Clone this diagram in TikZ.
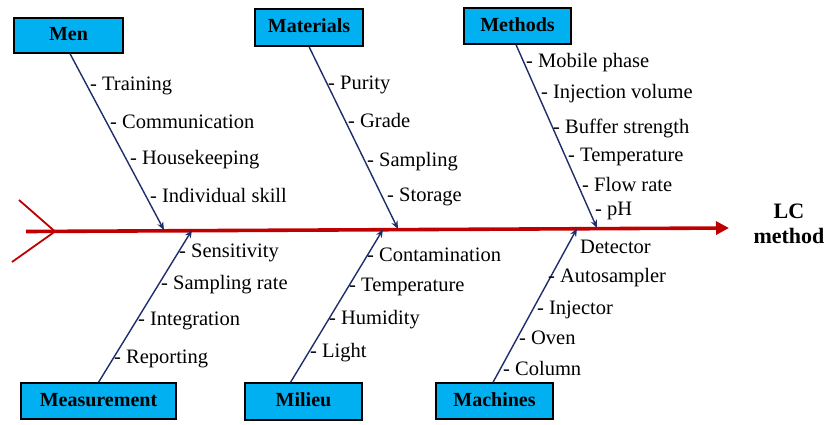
\documentclass[tikz,border=0pt]{standalone}
\usepackage{fontspec}
\setmainfont{Liberation Serif}
\usetikzlibrary{arrows.meta}
\definecolor{boxcyan}{HTML}{00B0F0}
\definecolor{spinered}{HTML}{C00000}
\definecolor{navyline}{HTML}{1F2D6B}
\begin{document}
\begin{tikzpicture}[x=1pt,y=-1pt,
  catbox/.style={draw=black, line width=1.3pt, fill=boxcyan, inner sep=0pt,
    font=\bfseries\fontsize{20}{23}\selectfont, text height=13pt, text depth=3pt},
  cause/.style={anchor=west, inner sep=0pt, font=\fontsize{20.5}{23}\selectfont,
    text height=13pt, text depth=0pt},
  bone/.style={draw=navyline, line width=1.4pt, -{Stealth[length=8pt,width=6.5pt]}},
  spine/.style={draw=spinered, line width=3.6pt, -{Triangle[length=13pt,width=13pt]}},
  tail/.style={draw=spinered, line width=1.8pt}]
\useasboundingbox (0,0) rectangle (831,424);

% category boxes
\node[catbox, minimum width=109pt, minimum height=35pt] (men) at (68.5,35.5) {Men};
\node[catbox, minimum width=108pt, minimum height=37pt] (mat) at (309,27.5) {Materials};
\node[catbox, minimum width=107pt, minimum height=36pt] (meth) at (517.5,26) {Methods};
\node[catbox, minimum width=155pt, minimum height=36pt] (meas) at (98.5,401) {Measurement};
\node[catbox, minimum width=117pt, minimum height=37pt] (mil) at (303.5,401.5) {Milieu};
\node[catbox, minimum width=117pt, minimum height=36pt] (mach) at (494.5,401) {Machines};

% spine
\coordinate (tailA) at (19,200);
\coordinate (tailV) at (55,231.5);
\coordinate (tailB) at (12,262);
\coordinate (spineStart) at (26,231.5);
\coordinate (spineEnd) at (729,228);
\draw[tail] (tailA) -- (tailV) -- (tailB);
\draw[spine] (spineStart) -- (spineEnd);
\node[font=\bfseries\fontsize{22}{25}\selectfont, align=center, inner sep=0pt] (lc) at (789,224) {LC\\method};

% bone end points on the spine
\coordinate (menE) at (164,230);
\coordinate (matE) at (398,229);
\coordinate (methE) at (597,228);
\coordinate (measE) at (192,230);
\coordinate (milE) at (383,229.5);
\coordinate (machE) at (577,228.5);

\draw[bone] ([xshift=1.5pt]men.south) -- (menE);
\draw[bone] (mat.south) -- (matE);
\draw[bone] ([xshift=-1.5pt]meth.south) -- (methE);
\draw[bone] (meas.north) -- (measE);
\draw[bone] ([xshift=-13pt]mil.north) -- (milE);
\draw[bone] ([xshift=-1.5pt]mach.north) -- (machE);

% Men
\node[cause] (m1) at (90,84) {- Training};
\node[cause] (m2) at (110,122) {- Communication};
\node[cause] (m3) at (130,158) {- Housekeeping};
\node[cause] (m4) at (150,196) {- Individual skill};
% Materials
\node[cause] (a1) at (328,83) {- Purity};
\node[cause] (a2) at (348,121) {- Grade};
\node[cause] (a3) at (367,160) {- Sampling};
\node[cause] (a4) at (387,195) {- Storage};
% Methods
\node[cause] (t1) at (526,61) {- Mobile phase};
\node[cause] (t2) at (541,92) {- Injection volume};
\node[cause] (t3) at (553,127) {- Buffer strength};
\node[cause] (t4) at (568,155) {- Temperature};
\node[cause] (t5) at (582,185) {- Flow rate};
\node[cause] (t6) at (595,209) {- pH};
% Measurement
\node[cause] (s1) at (179,251) {- Sensitivity};
\node[cause] (s2) at (161,283) {- Sampling rate};
\node[cause] (s3) at (138,319) {- Integration};
\node[cause] (s4) at (114,357) {- Reporting};
% Milieu
\node[cause] (l1) at (367,255) {- Contamination};
\node[cause] (l2) at (349,285) {- Temperature};
\node[cause] (l3) at (329,318) {- Humidity};
\node[cause] (l4) at (310,351) {- Light};
% Machines
\node[cause] (c1) at (580,247) {Detector};
\node[cause] (c2) at (548,276) {- Autosampler};
\node[cause] (c3) at (537,308) {- Injector};
\node[cause] (c4) at (519,338) {- Oven};
\node[cause] (c5) at (503,369) {- Column};
\end{tikzpicture}
\end{document}
